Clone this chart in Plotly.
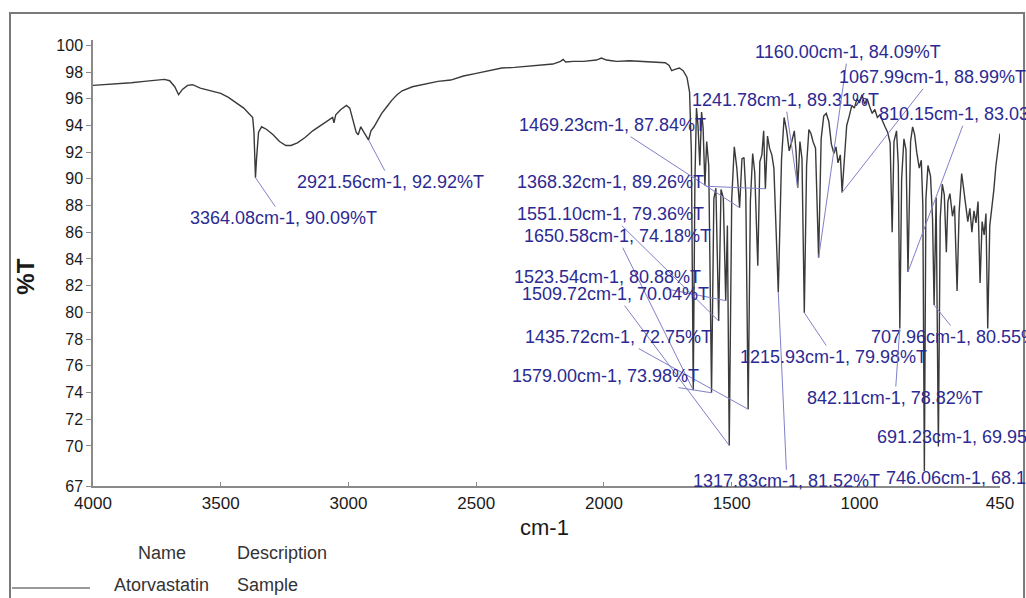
import plotly.graph_objects as go

# ---------------- data ----------------
wavenumber = [
    4000, 3950, 3900, 3850, 3800, 3760, 3720, 3700, 3680, 3665, 3650, 3630, 3610, 3580, 3540,
    3500, 3470, 3440, 3410, 3390, 3375, 3370, 3366, 3364.08, 3360, 3352, 3340, 3320, 3295,
    3270, 3245, 3225, 3200, 3170, 3140, 3110, 3080, 3062, 3057, 3050, 3030, 3008, 2995, 2982,
    2970, 2962, 2952, 2940, 2930, 2921.56, 2912, 2900, 2888, 2870, 2850, 2830, 2810, 2790,
    2750, 2700, 2650, 2600, 2550, 2500, 2450, 2400, 2350, 2300, 2250, 2200, 2170, 2160, 2150,
    2120, 2080, 2060, 2030, 2010, 1990, 1970, 1950, 1900, 1850, 1800, 1760, 1745, 1735, 1722,
    1705, 1690, 1675, 1665, 1658, 1650.58, 1644, 1638, 1632, 1625, 1618, 1612, 1605, 1598,
    1590, 1579.00, 1570, 1562, 1551.10, 1542, 1533, 1523.54, 1517, 1509.72, 1500, 1490, 1480,
    1469.23, 1460, 1452, 1445, 1435.72, 1427, 1418, 1410, 1398, 1390, 1382, 1375, 1368.32,
    1360, 1352, 1343, 1335, 1317.83, 1305, 1295, 1285, 1275, 1265, 1255, 1248, 1241.78, 1233,
    1225, 1215.93, 1207, 1198, 1190, 1182, 1172, 1160.00, 1150, 1140, 1130, 1120, 1110, 1100,
    1092, 1084, 1075, 1067.99, 1058, 1050, 1040, 1030, 1020, 1010, 1000, 990, 980, 970, 960,
    950, 940, 930, 920, 910, 900, 890, 880, 872, 865, 855, 848, 842.11, 835, 826, 818, 810.15,
    800, 792, 784, 776, 766, 758, 752, 746.06, 740, 732, 722, 714, 707.96, 700, 691.23, 684,
    676, 668, 660, 654, 646, 636, 628, 618, 610, 600, 592, 584, 576, 568, 560, 552, 544, 536,
    528, 520, 512, 505, 498, 490, 482, 474, 466, 458, 450,
]
transmittance = [
    97.0, 97.05, 97.15, 97.2, 97.3, 97.4, 97.45, 97.35, 96.9, 96.3, 96.7, 97.0, 97.05, 96.8, 96.6,
    96.4, 96.1, 95.7, 95.3, 94.9, 94.6, 93.5, 91.0, 90.09, 91.5, 93.5, 93.9, 93.7, 93.3,
    92.8, 92.5, 92.5, 92.7, 93.1, 93.6, 94.0, 94.4, 94.6, 94.2, 94.8, 95.2, 95.5, 95.3, 94.3,
    93.5, 93.3, 93.9, 93.5, 93.2, 92.92, 93.6, 93.9, 94.3, 94.9, 95.4, 95.9, 96.3, 96.6,
    96.9, 97.1, 97.3, 97.4, 97.7, 97.9, 98.1, 98.3, 98.35, 98.45, 98.5, 98.6, 98.8, 98.95, 98.75,
    98.8, 98.8, 98.85, 98.9, 99.05, 98.9, 98.85, 98.8, 98.85, 98.8, 98.75, 98.7, 98.5, 98.1, 98.2,
    98.3, 98.1, 97.6, 96.5, 92.0, 74.18, 90.0, 95.3, 94.0, 91.0, 95.0, 93.8, 89.5, 92.8,
    91.0, 73.98, 88.5, 89.3, 79.36, 89.2, 88.6, 80.88, 86.5, 70.04, 88.5, 92.4, 90.8,
    87.84, 91.5, 91.6, 89.0, 72.75, 88.3, 91.9, 90.5, 83.5, 91.3, 91.8, 93.6, 89.26,
    93.2, 92.3, 91.8, 90.8, 81.52, 91.5, 94.6, 93.6, 92.1, 92.8, 93.6, 92.0, 89.31, 92.8,
    91.5, 79.98, 91.0, 93.7, 93.4, 92.8, 92.3, 84.09, 93.0, 94.7, 94.9, 94.3, 92.6, 91.9,
    92.4, 91.2, 91.8, 88.99, 91.5, 94.0, 94.7, 95.5, 95.3, 96.0, 95.7, 96.3, 95.6, 96.0, 95.4,
    94.9, 95.2, 94.6, 94.8, 94.3, 93.9, 93.5, 92.7, 86.0, 92.8, 93.6, 91.0, 78.82, 90.0, 93.0, 92.2, 83.03,
    92.8, 93.9, 93.3, 92.0, 90.8, 91.4, 88.0, 68.12, 88.5, 91.0, 90.2, 87.0, 80.55, 88.6, 69.95, 87.0,
    89.6, 88.8, 84.5, 88.3, 88.9, 87.2, 88.0, 81.6, 87.5, 90.4, 89.3, 88.2, 86.8, 87.8, 86.0, 87.6, 86.7, 88.3,
    82.2, 86.8, 85.8, 87.4, 78.8, 86.5, 87.8, 89.2, 91.0, 92.4, 93.4,
]

# labelled peaks
peak_wn = [3364.08, 2921.56, 1469.23, 1368.32, 1551.10, 1650.58, 1523.54, 1509.72, 1435.72,
           1579.00, 1317.83, 1241.78, 1160.00, 1067.99, 810.15, 1215.93, 707.96, 842.11,
           691.23, 746.06]
peak_T = [90.09, 92.92, 87.84, 89.26, 79.36, 74.18, 80.88, 70.04, 72.75,
          73.98, 81.52, 89.31, 84.09, 88.99, 83.03, 79.98, 80.55, 78.82,
          69.95, 68.12]

x_ticks = [4000, 3500, 3000, 2500, 2000, 1500, 1000, 450]
y_ticks = [67, 70, 72, 74, 76, 78, 80, 82, 84, 86, 88, 90, 92, 94, 96, 98, 100]

legend_name = "Atorvastatin"
legend_desc = "Sample"

# ---------------- layout helpers (label text positions, in axis units) ----------------
label_pos = [
    (3256, 87.06), (2834, 89.75), (1965, 94.02), (1973, 89.75), (1976, 87.36),
    (1949, 85.71), (1988, 82.64), (1953, 81.37), (1945, 78.15), (1996, 75.23),
    (1284, 67.35), (1291, 95.89), (1045, 99.49), (716, 97.61), (579, 94.84),
    (1100, 76.66), (607, 78.15), (861, 73.59), (587, 70.67), (548, 67.6),
]

FONT = "Liberation Sans, Arial, sans-serif"
LABEL_COLOR = "#2c2a92"
LEADER_COLOR = "#8080c8"

fig = go.Figure()
fig.add_trace(go.Scatter(
    x=wavenumber, y=transmittance, mode="lines",
    line=dict(color="#3a3a3a", width=1.4), showlegend=False, hoverinfo="skip",
))

annotations = []
for (wn, t), (lx, ly) in zip(zip(peak_wn, peak_T), label_pos):
    annotations.append(dict(
        x=wn, y=t, xref="x", yref="y",
        ax=lx, ay=ly, axref="x", ayref="y",
        text=f"{wn:.2f}cm-1, {t:.2f}%T",
        showarrow=True, arrowhead=0, arrowwidth=1, arrowcolor=LEADER_COLOR,
        standoff=0, startstandoff=0,
        font=dict(family=FONT, size=18, color=LABEL_COLOR),
    ))

# axis titles
annotations.append(dict(x=-0.0747, y=0.47, xref="paper", yref="paper", text="<b>%T</b>",
                        textangle=-90, showarrow=False, xanchor="center", yanchor="middle",
                        font=dict(family=FONT, size=24, color="#1a1a1a")))
annotations.append(dict(x=0.498, y=-0.092, xref="paper", yref="paper", text="cm-1",
                        showarrow=False, xanchor="center", yanchor="middle",
                        font=dict(family=FONT, size=22, color="#1a1a1a")))

# legend table
LEG_FONT = dict(family=FONT, size=18, color="#333333")
annotations += [
    dict(x=0.076, y=-0.150, xref="paper", yref="paper", text="Name", showarrow=False,
         xanchor="center", yanchor="middle", font=LEG_FONT),
    dict(x=0.1566, y=-0.150, xref="paper", yref="paper", text="Description", showarrow=False,
         xanchor="left", yanchor="middle", font=LEG_FONT),
    dict(x=0.076, y=-0.222, xref="paper", yref="paper", text=legend_name, showarrow=False,
         xanchor="center", yanchor="middle", font=LEG_FONT),
    dict(x=0.1566, y=-0.222, xref="paper", yref="paper", text=legend_desc, showarrow=False,
         xanchor="left", yanchor="middle", font=LEG_FONT),
]

shapes = [
    # outer frame
    dict(type="rect", xref="paper", yref="paper", x0=-0.0915, x1=1.0265, y0=-0.30, y1=1.0605,
         line=dict(color="#7a7a7a", width=2), fillcolor="rgba(0,0,0,0)", layer="below"),
    # legend line sample
    dict(type="line", xref="paper", yref="paper", x0=-0.0893, x1=-0.0033, y0=-0.2287, y1=-0.2287,
         line=dict(color="#777777", width=1.5)),
]

fig.update_layout(
    width=1026, height=598,
    margin=dict(l=93, r=26, t=40, b=112),
    paper_bgcolor="white", plot_bgcolor="white",
    annotations=annotations, shapes=shapes,
    xaxis=dict(
        range=[4000, 450], tickvals=x_ticks, ticktext=[str(v) for v in x_ticks],
        showgrid=False, zeroline=False, showline=True, linecolor="#8a8a8a", linewidth=1.5,
        ticks="inside", ticklen=4, tickcolor="#8a8a8a", ticklabelstandoff=1,
        tickfont=dict(family=FONT, size=17, color="#1a1a1a"),
    ),
    yaxis=dict(
        range=[67, 100.4], tickvals=y_ticks, ticktext=[str(v) for v in y_ticks],
        showgrid=False, zeroline=False, showline=True, linecolor="#8a8a8a", linewidth=1.5,
        ticks="outside", ticklen=5, tickcolor="#8a8a8a",
        tickfont=dict(family=FONT, size=16, color="#1a1a1a"),
    ),
)

fig.write_html("out.html")
